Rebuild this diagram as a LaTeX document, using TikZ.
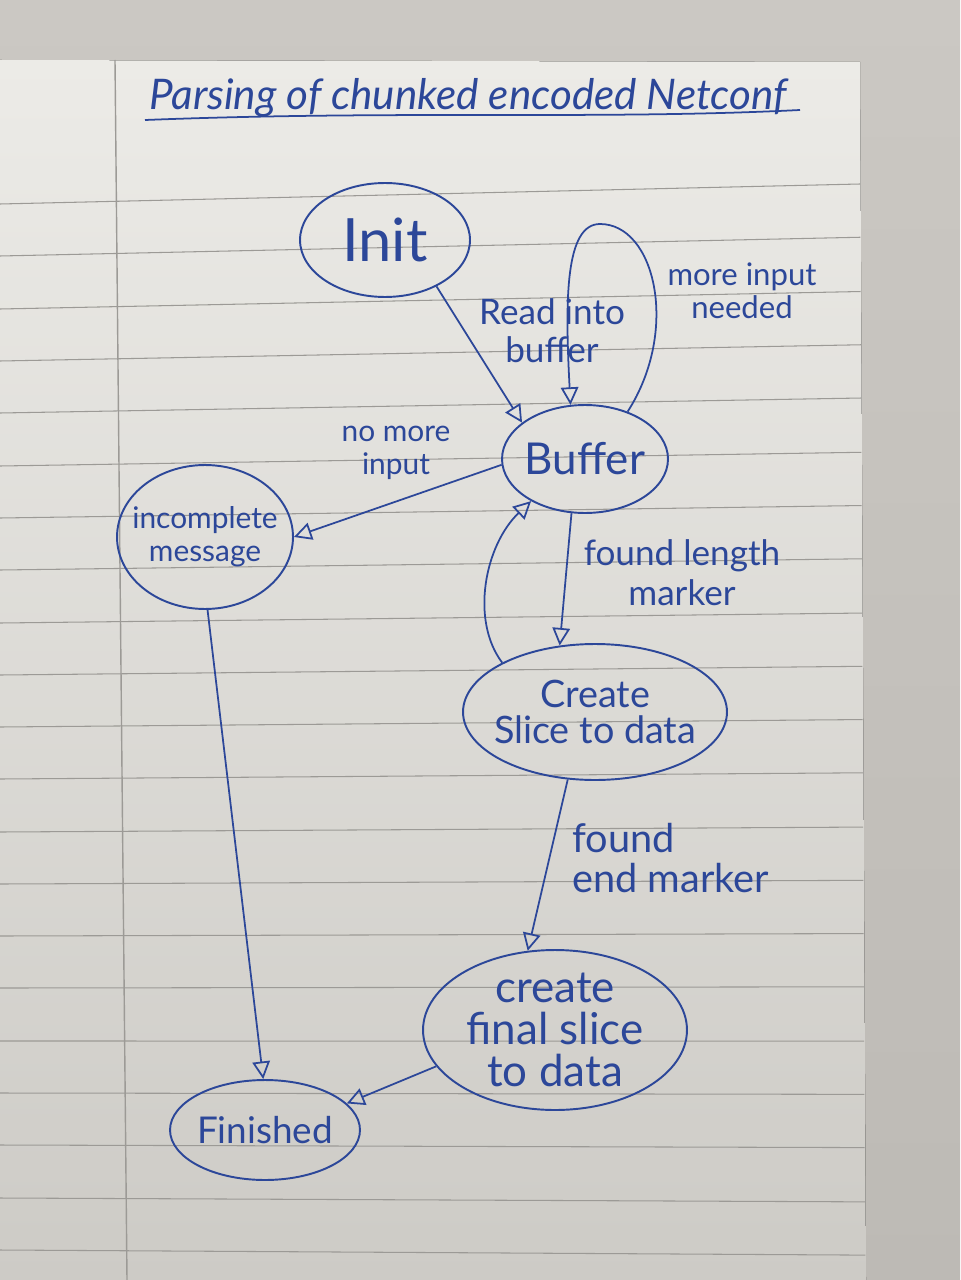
\documentclass[tikz,border=0pt]{standalone}
\usepackage{fontspec}
\setmainfont{Lato}
\usetikzlibrary{shapes.geometric,arrows.meta}
\definecolor{ink}{HTML}{2C4799}
\definecolor{papertop}{HTML}{ECEBE7}
\definecolor{paperbot}{HTML}{CDCBC6}
\definecolor{deskcol}{HTML}{CBC8C3}
\definecolor{deskbot}{HTML}{BDBAB5}
\definecolor{rulec}{HTML}{9C9A96}
\begin{document}
\begin{tikzpicture}[x=0.02cm,y=-0.02cm,
  state/.style={ellipse,draw=ink,line width=1.1pt,inner sep=0pt},
  lbl/.style={text=ink,align=center},
  elbl/.style={text=ink,align=center},
  edge/.style={draw=ink,line width=1pt,-{Triangle[open,length=10pt,width=10pt]}},
]
\useasboundingbox (0,0) rectangle (960,1280);
\fill[top color=deskcol,bottom color=deskbot] (0,0) rectangle (960,1280);
\fill[top color=papertop,bottom color=paperbot] (0,60) -- (860,62) -- (866,1280) -- (0,1280) -- cycle;
\foreach \y in {204,256,309,361,413,466,518,570,623,675,727,779,832,884,936,988,1041,1093,1145,1198,1250}
  \draw[rulec,line width=0.6pt] (0,\y) -- ({859+0.005*\y},{\y-20+(\y-204)*0.024});
\draw[rulec,line width=0.8pt] (115,60) -- (127,1280);

% title
\node[text=ink,font=\fontsize{24}{28}\selectfont\itshape] (title) at (468,98) {Parsing of chunked encoded Netconf};
\draw[ink,line width=1pt] (145,120) .. controls (400,110) and (600,120) .. (800,110);

% states
\node[state,minimum width=3.4cm,minimum height=2.28cm,label={[lbl,font=\fontsize{34}{38}\selectfont]center:Init}] (init) at (385,240) {};
\node[state,minimum width=3.32cm,minimum height=2.16cm,label={[lbl,font=\fontsize{25}{29}\selectfont]center:Buffer}] (buf) at (585,459) {};
\node[state,minimum width=3.52cm,minimum height=2.88cm,label={[lbl,font=\fontsize{17}{19}\selectfont]center:incomplete\\message}] (inc) at (205,537) {};
\node[state,minimum width=5.28cm,minimum height=2.72cm,label={[lbl,font=\fontsize{21.5}{21}\selectfont]center:Create\\Slice to data}] (create) at (595,712) {};
\node[state,minimum width=5.28cm,minimum height=3.2cm,label={[lbl,font=\fontsize{25}{24}\selectfont]center:create\\final slice\\to data}] (final) at (555,1030) {};
\node[state,minimum width=3.8cm,minimum height=2.0cm,label={[lbl,font=\fontsize{21}{24}\selectfont]center:Finished}] (fin) at (265,1130) {};

% transitions
\draw[edge] (init.-42) -- (buf.150);
\node[elbl,font=\fontsize{20}{21.5}\selectfont] (l1) at (552,331) {Read into\\buffer};
\coordinate (looptop) at (600,224);
\draw[edge] (buf.48) .. controls (680,330) and (655,224) .. (looptop) .. controls (565,224) and (565,300) .. (buf.105);
\node[elbl,font=\fontsize{17.7}{19}\selectfont] (l2) at (742,291) {more input\\needed};
\draw[edge] (buf.184) -- (inc.0);
\node[elbl,font=\fontsize{17}{18.5}\selectfont] (l3) at (396,453) {no more\\input};
\draw[edge] (buf.-104) -- (create.118);
\node[elbl,font=\fontsize{20}{22.7}\selectfont] (l4) at (682,573) {found length\\marker};
\draw[edge] (create.152) .. controls (470,620) and (485,545) .. (buf.218);
\draw[edge] (create.-112) -- (final.109);
\node[elbl,font=\fontsize{22.6}{22.7}\selectfont,align=left,anchor=west] (l5) at (566,858) {found\\end marker};
\draw[edge] (inc.-88) -- (fin.92);
\draw[edge] (final.197) -- (fin.18);
\end{tikzpicture}
\end{document}
